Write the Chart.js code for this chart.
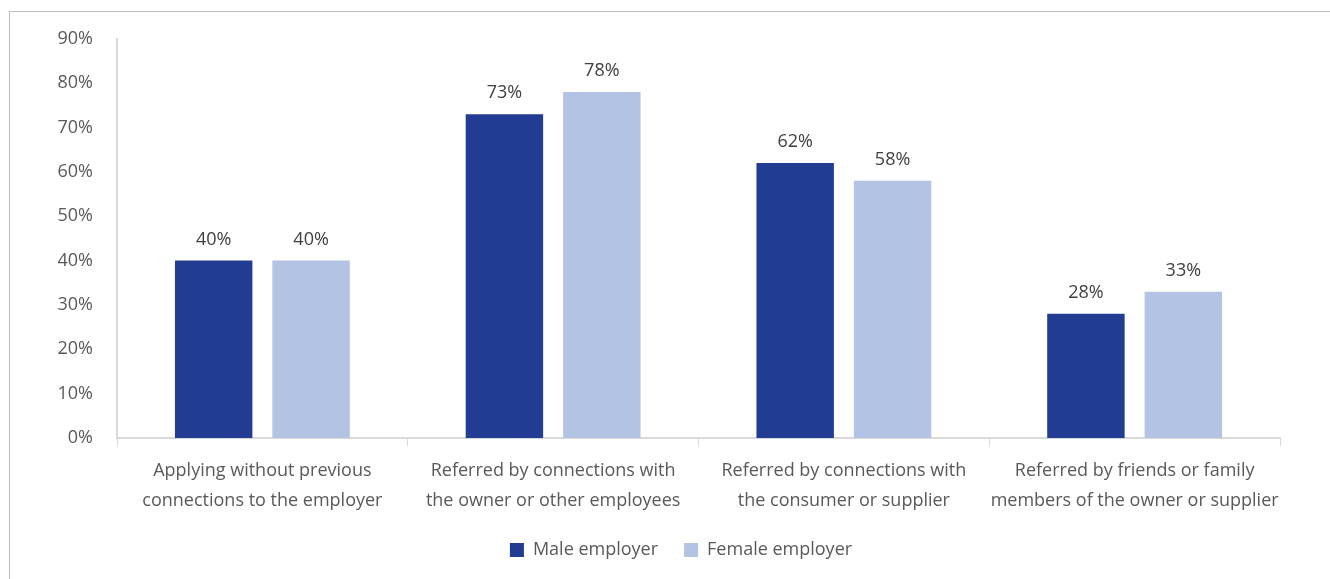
<!DOCTYPE html>
<html>
<head>
<meta charset="utf-8">
<script src="https://cdn.jsdelivr.net/npm/chart.js@4/dist/chart.umd.min.js"></script>
<style>
  html, body { margin: 0; padding: 0; background: #fff; overflow: hidden; }
  #frame { position: absolute; left: 9px; top: 11px; width: 1340px; height: 600px; border: 1px solid #bdbdbd; }
  #wrap { position: absolute; left: 0; top: 0; width: 1320px; height: 557px; }
</style>
</head>
<body>
<div id="frame"><div id="wrap"><canvas id="chart"></canvas></div></div>
<script>
const categories = [
  ['Applying without previous', 'connections to the employer'],
  ['Referred by connections with', 'the owner or other employees'],
  ['Referred by connections with', 'the consumer or supplier'],
  ['Referred by friends or family', 'members of the owner or supplier']
];
const maleValues = [40, 73, 62, 28];
const femaleValues = [40, 78, 58, 33];
const yTicks = [0, 10, 20, 30, 40, 50, 60, 70, 80, 90];

const FONT = '"Open Sans", Lato, sans-serif';
const TEXT = '#595959';
const AXIS = '#d9d9d9';

// values printed above every bar
const barLabels = {
  id: 'barLabels',
  afterDatasetsDraw(chart) {
    const ctx = chart.ctx;
    ctx.save();
    ctx.font = '18px ' + FONT;
    ctx.fillStyle = '#404040';
    ctx.textAlign = 'center';
    ctx.textBaseline = 'alphabetic';
    chart.data.datasets.forEach((ds, i) => {
      chart.getDatasetMeta(i).data.forEach((bar, j) => {
        ctx.fillText(ds.data[j] + '%', bar.x, bar.y - 16);
      });
    });
    ctx.restore();
  }
};

// centre the legend under the whole frame rather than the plot
const legendShift = {
  id: 'legendShift',
  afterLayout(chart) {
    chart.legend.left += 36;
    chart.legend.right += 36;
  }
};

new Chart(document.getElementById('chart'), {
  type: 'bar',
  data: {
    labels: categories,
    datasets: [
      { label: 'Male employer', data: maleValues, backgroundColor: '#223b93' },
      { label: 'Female employer', data: femaleValues, backgroundColor: '#b3c3e3' }
    ]
  },
  plugins: [barLabels, legendShift],
  options: {
    responsive: true,
    maintainAspectRatio: false,
    animation: false,
    datasets: { bar: { categoryPercentage: 0.67, barPercentage: 0.795 } },
    layout: { padding: { top: 21, right: 50, left: 0, bottom: 0 } },
    plugins: {
      tooltip: { enabled: false },
      legend: {
        position: 'bottom',
        labels: { font: { family: FONT, size: 18 }, color: TEXT, boxWidth: 14, boxHeight: 14, padding: 26 }
      }
    },
    scales: {
      x: {
        grid: { display: true, drawOnChartArea: false, drawTicks: true, tickLength: 8, color: AXIS, offset: true },
        border: { display: true, color: AXIS, width: 2 },
        ticks: { font: { family: FONT, size: 18, lineHeight: 1.65 }, color: TEXT, padding: 10, maxRotation: 0, autoSkip: false },
        afterFit(scale) { scale.height = 77; }
      },
      y: {
        min: 0,
        max: 90,
        afterBuildTicks(scale) { scale.ticks = yTicks.map(v => ({ value: v })); },
        grid: { display: false },
        border: { display: true, color: AXIS, width: 2 },
        ticks: { font: { family: FONT, size: 18 }, color: TEXT, padding: 16, callback: v => v + '%' },
        afterFit(scale) { scale.width = 107; }
      }
    }
  }
});
</script>
</body>
</html>
